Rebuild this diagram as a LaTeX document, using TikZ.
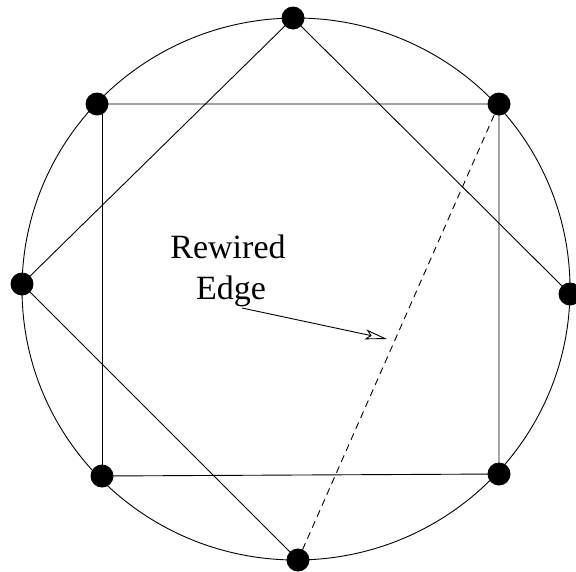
\documentclass[tikz,border=0pt]{standalone}
\usepackage{fontspec}
\setmainfont{Liberation Serif}
\usetikzlibrary{arrows.meta}
\begin{document}
\begin{tikzpicture}[x=1pt,y=-1pt,
  dot/.style={circle,fill=black,inner sep=0pt,minimum size=23pt},
  edge/.style={line width=0.9pt},
  rewired/.style={line width=0.9pt,dash pattern=on 7pt off 5pt},
  lbl/.style={font=\fontsize{34}{41}\selectfont,anchor=base,inner sep=0pt}]
\useasboundingbox (0,0) rectangle (576,571);
\clip (0,0) rectangle (576,571);
\draw[line width=0.9pt] (296,289) ellipse [x radius=274, y radius=271];
% vertices
\coordinate (t) at (293,18);
\coordinate (l) at (22,284);
\coordinate (r) at (570,294);
\coordinate (b) at (298,560);
\coordinate (tl) at (97,104);
\coordinate (tr) at (499,104);
\coordinate (bl) at (102,476);
\coordinate (br) at (499,474);
% square
\draw[edge] (tl) -- (tr) -- (br) -- (bl);
\draw[edge] (bl) -- (bl |- tl);
% diagonals
\draw[edge] (t) -- (l) -- (b);
\draw[edge] (t) -- (r);
\draw[rewired] (tr) -- (b);
% dots
\foreach \p in {t,l,r,b,tl,tr,bl,br} \node[dot] (d\p) at (\p) {};
% label
\node[lbl] (lab1) at (228,258) {Rewired};
\node[lbl] (lab2) at (231,299) {Edge};
\coordinate (as) at (242,308);
\coordinate (ae) at (387,339);
\draw[line width=0.9pt,-{Stealth[open,length=22pt,width=10pt,inset=5pt]}] (as) -- (ae);
\end{tikzpicture}
\end{document}
